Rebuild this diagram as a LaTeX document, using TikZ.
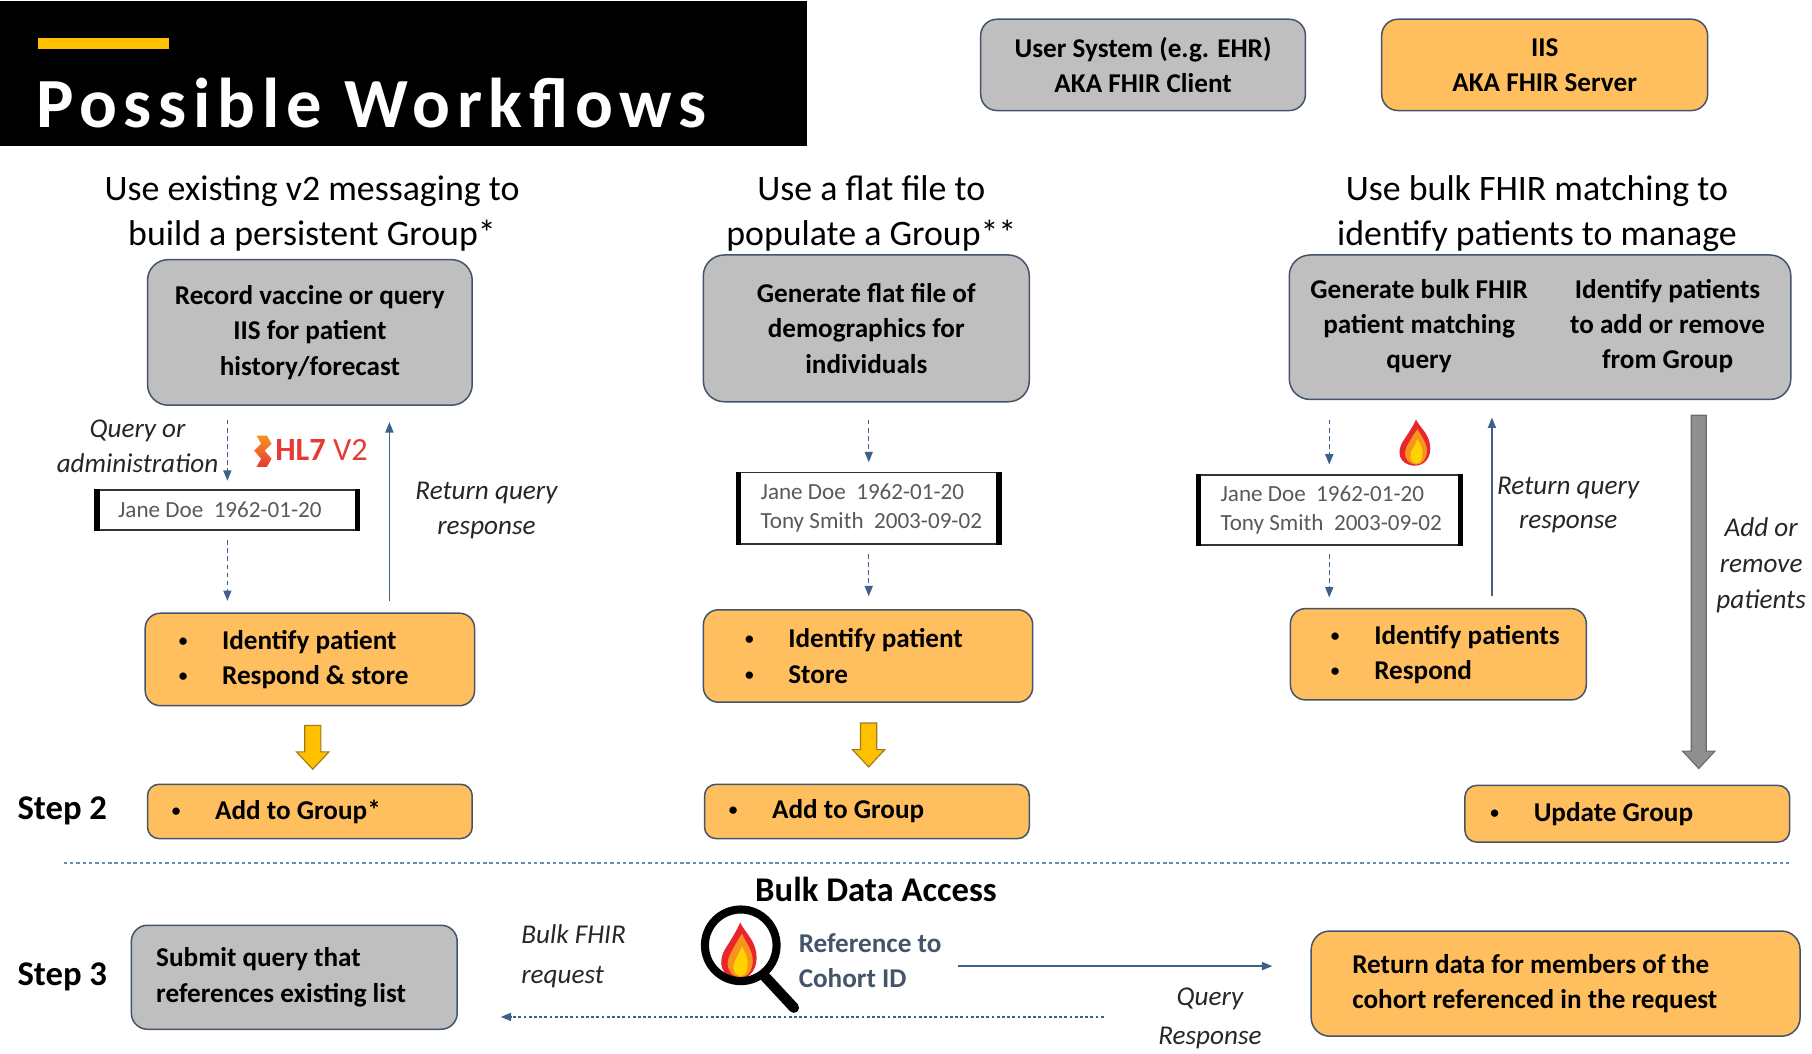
\documentclass[tikz,border=0pt]{standalone}
\usepackage{fontspec}
\setmainfont{Carlito}
\newfontfamily\titlefont[LetterSpace=9.6]{Carlito}
\usetikzlibrary{arrows.meta,calc}
\definecolor{boxgray}{HTML}{BFBFBF}
\definecolor{boxorange}{HTML}{FFBF5E}
\definecolor{boxedge}{HTML}{44546A}
\definecolor{arrowblue}{HTML}{3D6189}
\definecolor{sepblue}{HTML}{6A8BB0}
\definecolor{gold}{HTML}{FFC000}
\definecolor{goldedge}{HTML}{9C7A1E}
\definecolor{datagray}{HTML}{595959}
\definecolor{labelgray}{HTML}{262626}
\definecolor{hlred}{HTML}{E53A35}
\definecolor{hlorange}{HTML}{F7941D}
\definecolor{flred}{HTML}{E8262B}
\definecolor{florange}{HTML}{F7941D}
\definecolor{flyellow}{HTML}{FFD200}
\definecolor{arrgray}{HTML}{8F8F8F}
\definecolor{arrgrayedge}{HTML}{6B6B6B}
\newcommand\bul{\makebox[40pt][l]{\hspace{2.5pt}\raisebox{2.5pt}{\fontsize{15}{15}\selectfont\textbullet}}}
\begin{document}
\begin{tikzpicture}[x=1pt,y=-1pt,
  boxfont/.style={font=\fontsize{23.5}{30.5}\selectfont\bfseries},
  graybox/.style={draw=boxedge, fill=boxgray, line width=1.3pt, rounded corners=18pt,
    inner sep=0pt, align=center, anchor=north west, boxfont},
  orangebox/.style={graybox, fill=boxorange, rounded corners=13pt},
  boxtext/.style={anchor=west, align=left, inner sep=0pt, boxfont},
  headtext/.style={align=center, inner sep=0pt, font=\fontsize{31}{39}\selectfont},
  italiclabel/.style={align=center, inner sep=0pt, text=labelgray, font=\fontsize{23.5}{30}\selectfont\itshape},
  databox/.style={draw=black!80, line width=1.5pt, fill=white, anchor=north west, inner sep=0pt},
  datatext/.style={anchor=west, align=left, inner sep=0pt, text=datagray, font=\fontsize{20}{24.5}\selectfont},
  steplabel/.style={anchor=west, inner sep=0pt, font=\fontsize{30}{36}\selectfont\bfseries},
  dasharrow/.style={draw=arrowblue, line width=1.2pt, dash pattern=on 4pt off 3pt, -{Triangle[length=9pt,width=7pt]}},
  solidarrow/.style={draw=arrowblue, line width=1.2pt, -{Triangle[length=9pt,width=7pt]}},
  dotarrow/.style={draw=arrowblue, line width=1.5pt, dash pattern=on 2.5pt off 2pt, -{Triangle[length=9pt,width=7pt]}},
  yarrow/.style={fill=gold, draw=goldedge, line width=1pt, line join=miter},
  grayarrow/.style={fill=arrgray, draw=arrgrayedge, line width=1pt, line join=miter},
  flame/.pic={
    \fill[flred] (0,0) .. controls (-10,-1) and (-12,-12) .. (-7,-22) .. controls (-4,-28) and (-1,-34) .. (1,-40) .. controls (3,-34) and (9,-28) .. (10,-18) .. controls (11,-8) and (7,0) .. (0,0) -- cycle;
    \fill[florange] (1,-1) .. controls (-6,-2) and (-8,-11) .. (-4,-19) .. controls (-2,-24) and (0,-28) .. (2,-32) .. controls (4,-26) and (8,-20) .. (8,-13) .. controls (8,-6) and (5,-1) .. (1,-1) -- cycle;
    \fill[flyellow] (1,-2) .. controls (-3,-3) and (-4,-9) .. (-1,-15) .. controls (0,-18) and (1,-20) .. (2,-23) .. controls (4,-18) and (6,-13) .. (5,-8) .. controls (5,-4) and (3,-2) .. (1,-2) -- cycle;
  }
]
\path[use as bounding box] (0,0) rectangle (1568,911.2);

% ---------- title ----------
\node[fill=black, anchor=north west, minimum width=698pt, minimum height=125pt, inner sep=0pt] (tbox) at (0,1) {};
\node[fill=gold, anchor=north west, minimum width=113pt, minimum height=9pt, inner sep=0pt] (tbar) at (33,33) {};
\node[anchor=base west, text=white, inner sep=0pt, font=\titlefont\bfseries\fontsize{61}{61}\selectfont] (title) at (31,110) {Possible Workflows};

% ---------- legend ----------
\node[graybox, rounded corners=14pt, minimum width=281pt, minimum height=79pt] (client) at (848,16) {User System (e.g. EHR)\\AKA FHIR Client};
\node[graybox, fill=boxorange, rounded corners=14pt, minimum width=282pt, minimum height=79pt] (server) at (1195,16) {IIS\\AKA FHIR Server};

% ---------- headings ----------
\node[headtext] (h1) at (270,184.5) {Use existing v2 messaging to\\build a persistent Group*};
\node[headtext] (h2) at (754,184.5) {Use a flat file to\\populate a Group**};
\node[headtext] (h3) at (1330,184.5) {Use bulk FHIR matching to\\identify patients to manage};

% ---------- top gray boxes ----------
\node[graybox, minimum width=281pt, minimum height=126pt] (g1) at (127,224) {Record vaccine or query\\IIS for patient\\history/forecast};
\node[graybox, minimum width=282pt, minimum height=127pt] (g2) at (608,220) {Generate flat file of\\demographics for\\individuals};
\node[graybox, minimum width=434pt, minimum height=125pt] (g3) at (1115,220) {};
\node[align=center, inner sep=0pt, boxfont] (g3a) at (1228,282) {Generate bulk FHIR\\patient matching\\query};
\node[align=center, inner sep=0pt, boxfont] (g3b) at (1443,282) {Identify patients\\to add or remove\\from Group};

% ---------- data boxes ----------
\node[databox, minimum width=224pt, minimum height=35pt] (d1) at (84,423) {};
\node[datatext] (d1t) at ([xshift=18pt]d1.west) {Jane Doe\ \ 1962-01-20};
\node[databox, minimum width=224pt, minimum height=62pt] (d2) at (639,408) {};
\node[datatext] (d2t) at ([xshift=19pt]d2.west) {Jane Doe\ \ 1962-01-20\\Tony Smith\ \ 2003-09-02};
\node[databox, minimum width=225pt, minimum height=61pt] (d3) at (1037,410) {};
\node[datatext] (d3t) at ([xshift=19pt]d3.west) {Jane Doe\ \ 1962-01-20\\Tony Smith\ \ 2003-09-02};
\foreach \d in {d1,d2,d3}{
  \draw[line width=4.5pt, black] (\d.north west) -- (\d.south west);
  \draw[line width=4.5pt, black] (\d.north east) -- (\d.south east);
}

% ---------- orange boxes ----------
\node[orangebox, minimum width=285pt, minimum height=80pt] (o1) at (125,530) {};
\node[boxtext] (o1t) at ([xshift=27pt]o1.west) {\bul Identify patient\\\bul Respond \& store};
\node[orangebox, minimum width=285pt, minimum height=80pt] (o2) at (608,527) {};
\node[boxtext] (o2t) at ([xshift=34pt]o2.west) {\bul Identify patient\\\bul Store};
\node[orangebox, minimum width=256pt, minimum height=79pt] (o3) at (1116,526) {};
\node[boxtext] (o3t) at ([xshift=33pt]o3.west) {\bul Identify patients\\\bul Respond};

\node[orangebox, rounded corners=10pt, minimum width=281pt, minimum height=47pt] (a1) at (127,678) {};
\node[boxtext] (a1t) at ([xshift=19pt]a1.west) {\bul Add to Group*};
\node[orangebox, rounded corners=10pt, minimum width=281pt, minimum height=47pt] (a2) at (609,678) {};
\node[boxtext] (a2t) at ([xshift=19pt]a2.west) {\bul Add to Group};
\node[orangebox, rounded corners=10pt, minimum width=281pt, minimum height=49pt] (u3) at (1267,679) {};
\node[boxtext] (u3t) at ([xshift=20pt]u3.west) {\bul Update Group};

% ---------- labels ----------
\node[italiclabel] (lq) at (119,386) {Query or\\administration};
\node[italiclabel] (lr1) at (421,442) {Return query\\response};
\node[italiclabel] (lr3) at (1357,437) {Return query\\response};
\node[italiclabel, font=\fontsize{23.5}{31}\selectfont\itshape] (lar) at (1524,489) {Add or\\remove\\patients};
\node[steplabel] (s2) at (15,702) {Step 2};

% HL7 logo
\shade[top color=hlorange, bottom color=hlred] (222,377) -- (231,377) -- (235,384) -- (229,390) -- (235,397) -- (231,404) -- (222,404) -- (226,397) -- (220,390) -- (226,384) -- cycle;
\node[anchor=west, inner sep=0pt, text=hlred, font=\fontsize{28}{28}\selectfont] (hl7) at (238,389) {\textbf{HL7} V2};

% FHIR flame
\pic[xscale=1.35] at (1224,403) {flame};

% ---------- connectors: left ----------
\coordinate (r1) at (337,0);
\coordinate (r3) at (1291,0);
\draw[dasharrow, shorten <=12pt, shorten >=7pt] (d1.north |- g1.south) -- (d1.north);
\draw[dasharrow, shorten <=8pt, shorten >=10pt] (d1.south) -- (d1.south |- o1.north);
\draw[solidarrow, shorten <=10pt, shorten >=14pt] (r1 |- o1.north) -- (r1 |- g1.south);
% middle
\draw[dasharrow, shorten <=15pt, shorten >=8pt] (d2.north |- g2.south) -- (d2.north);
\draw[dasharrow, shorten <=8pt, shorten >=11pt] (d2.south) -- (d2.south |- o2.north);
% right
\draw[dasharrow, shorten <=17pt, shorten >=8pt] (d3.north |- g3.south) -- (d3.north);
\draw[dasharrow, shorten <=7pt, shorten >=9pt] (d3.south) -- (d3.south |- o3.north);
\draw[solidarrow, shorten <=10pt, shorten >=15pt] (r3 |- o3.north) -- (r3 |- g3.south);

% block arrows
\begin{scope}[shift={($(o1.south)!0.5!(a1.north)+(2.5,2)$)}]
  \filldraw[yarrow] (-7,-19) -- (7,-19) -- (7,4) -- (14,4) -- (0,19) -- (-14,4) -- (-7,4) -- cycle;
\end{scope}
\begin{scope}[shift={($(o2.south)!0.5!(a2.north)+(1,1.5)$)}]
  \filldraw[yarrow] (-7,-19) -- (7,-19) -- (7,4) -- (14,4) -- (0,19) -- (-14,4) -- (-7,4) -- cycle;
\end{scope}
\coordinate (ga) at (1470,0);
\filldraw[grayarrow] ($(ga |- g3.south)+(-6.5,13)$) -- ($(ga |- g3.south)+(6.5,13)$) -- ($(ga |- u3.north)+(6.5,-29)$) -- ($(ga |- u3.north)+(14,-29)$) -- ($(ga |- u3.north)+(0,-14)$) -- ($(ga |- u3.north)+(-14,-29)$) -- ($(ga |- u3.north)+(-6.5,-29)$) -- cycle;

% ---------- separator ----------
\coordinate (sepl) at (55,747);
\coordinate (sepr) at (1548,747);
\draw[sepblue, line width=1.5pt, dash pattern=on 3pt off 2.5pt] (sepl) -- (sepr);

% ---------- step 3 ----------
\node[anchor=center, inner sep=0pt, font=\fontsize{30}{36}\selectfont\bfseries] (bda) at (758,770) {Bulk Data Access};
\node[steplabel] (s3) at (15,845) {Step 3};
\node[graybox, rounded corners=14pt, minimum width=282pt, minimum height=90pt] (sub) at (113,800) {};
\node[boxtext] (subt) at ([xshift=22pt]sub.west) {Submit query that\\references existing list};
\node[graybox, fill=boxorange, rounded corners=16pt, minimum width=423pt, minimum height=91pt] (ret) at (1134,805) {};
\node[boxtext] (rett) at ([xshift=36pt]ret.west) {Return data for members of the\\cohort referenced in the request};

\node[anchor=west, align=left, inner sep=0pt, text=labelgray, font=\fontsize{23.5}{35}\selectfont\itshape] (lbf) at (451,827.5) {Bulk FHIR\\request};
\node[italiclabel, font=\fontsize{23.5}{34}\selectfont\itshape] (lqr) at (1047,881) {Query\\Response};
\node[boxtext, text=boxedge] (refl) at (691,831) {Reference to\\Cohort ID};

% magnifier
\fill[white] (641,818) circle (31);
\pic[xscale=1.55, yscale=1.22] at (639,847) {flame};
\draw[black, line width=7pt] (641,818) circle (31);
\draw[black, line width=9pt, line cap=round] (661,844) -- (687,872);

\coordinate (bq) at (829,836);
\draw[solidarrow, shorten >=33pt] (bq) -- (bq -| ret.west);
\coordinate (qr) at (955,880);
\draw[dotarrow, shorten >=37pt] (qr) -- (qr -| sub.east);
\end{tikzpicture}
\end{document}
